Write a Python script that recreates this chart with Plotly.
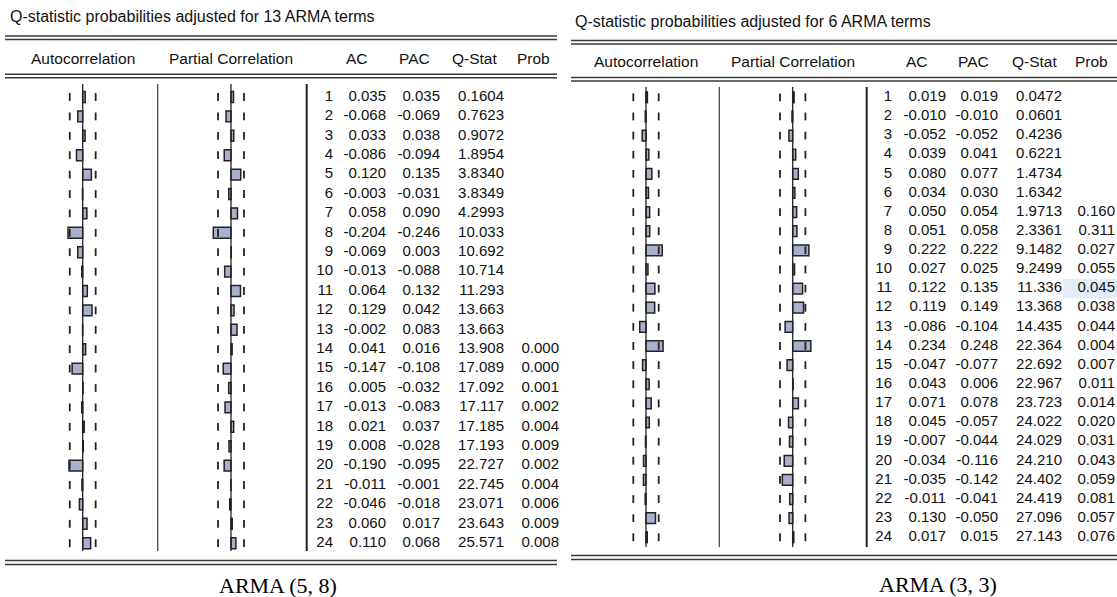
import plotly.graph_objects as go

W, H = 1117, 597

# ---------------- data ----------------
lags = list(range(1, 25))

title_L = "Q-statistic probabilities adjusted for 13 ARMA terms"
caption_L = "ARMA (5, 8)"
AC_L = [0.035, -0.068, 0.033, -0.086, 0.120, -0.003, 0.058, -0.204, -0.069, -0.013, 0.064, 0.129,
        -0.002, 0.041, -0.147, 0.005, -0.013, 0.021, 0.008, -0.190, -0.011, -0.046, 0.060, 0.110]
PAC_L = [0.035, -0.069, 0.038, -0.094, 0.135, -0.031, 0.090, -0.246, 0.003, -0.088, 0.132, 0.042,
         0.083, 0.016, -0.108, -0.032, -0.083, 0.037, -0.028, -0.095, -0.001, -0.018, 0.017, 0.068]
Q_L = [0.1604, 0.7623, 0.9072, 1.8954, 3.8340, 3.8349, 4.2993, 10.033, 10.692, 10.714, 11.293, 13.663,
       13.663, 13.908, 17.089, 17.092, 17.117, 17.185, 17.193, 22.727, 22.745, 23.071, 23.643, 25.571]
P_L = [None] * 13 + [0.000, 0.000, 0.001, 0.002, 0.004, 0.009, 0.002, 0.004, 0.006, 0.009, 0.008]
BAND_L = 0.180

title_R = "Q-statistic probabilities adjusted for 6 ARMA terms"
caption_R = "ARMA (3, 3)"
AC_R = [0.019, -0.010, -0.052, 0.039, 0.080, 0.034, 0.050, 0.051, 0.222, 0.027, 0.122, 0.119,
        -0.086, 0.234, -0.047, 0.043, 0.071, 0.045, -0.007, -0.034, -0.035, -0.011, 0.130, 0.017]
PAC_R = [0.019, -0.010, -0.052, 0.041, 0.077, 0.030, 0.054, 0.058, 0.222, 0.025, 0.135, 0.149,
         -0.104, 0.248, -0.077, 0.006, 0.078, -0.057, -0.044, -0.116, -0.142, -0.041, -0.050, 0.015]
Q_R = [0.0472, 0.0601, 0.4236, 0.6221, 1.4734, 1.6342, 1.9713, 2.3361, 9.1482, 9.2499, 11.336, 13.368,
       14.435, 22.364, 22.692, 22.967, 23.723, 24.022, 24.029, 24.210, 24.402, 24.419, 27.096, 27.143]
P_R = [None] * 6 + [0.160, 0.311, 0.027, 0.055, 0.045, 0.038, 0.044, 0.004, 0.007, 0.011, 0.014,
                    0.020, 0.031, 0.043, 0.059, 0.081, 0.057, 0.076]
BAND_R = 0.174
highlight_R = (11, "Prob")

headers = ["Autocorrelation", "Partial Correlation", "AC", "PAC", "Q-Stat", "Prob"]

# ---------------- styling ----------------
SANS = "Liberation Sans, Arial, sans-serif"
SERIF = "Liberation Serif, Times New Roman, serif"
BAR_FILL = "#A9B0CD"
DARK = "#222222"
LINE = "#3a3a3a"
TXT = "#111111"
FS = 15


def fx(px):
    return px / W


def fy(py):
    return 1 - py / H


def fmt3(v):
    return f"{v:.3f}"


def fmtq(v):
    return f"{v:.4f}" if v < 10 else f"{v:.3f}"


def fmtp(v):
    return "" if v is None else f"{v:.3f}"


fig = go.Figure()

panels = [
    dict(ac=AC_L, pac=PAC_L, q=Q_L, p=P_L, band=BAND_L, title=title_L, caption=caption_L,
         yax="y", yname="yaxis", row1=97.0, step=19.4,
         xac="x", xac_name="xaxis", ac0=82.7, ac_dom=(10, 152),
         xpac="x2", xpac_name="xaxis2", pac0=231.0, pac_dom=(162, 300), scale=72.0,
         seps=(157.7, 306.7), vtop=84, vbot=551,
         cols=dict(lag=333, AC=386, PAC=440, Q=504, Prob=559),
         hcent=dict(AC=357, PAC=414, Q=475, Prob=533),
         left=5, right=557, title_x=8, title_y=17,
         top_lines=(36.0, 39.5), head_y=58, head_lines=(74.2, 77.8), bot_lines=(560.5, 564.5),
         cap_x=278, cap_y=585, hl=None),
    dict(ac=AC_R, pac=PAC_R, q=Q_R, p=P_R, band=BAND_R, title=title_R, caption=caption_R,
         yax="y2", yname="yaxis2", row1=97.3, step=19.13,
         xac="x3", xac_name="xaxis3", ac0=646.0, ac_dom=(580, 714),
         xpac="x4", xpac_name="xaxis4", pac0=792.7, pac_dom=(724, 862), scale=73.0,
         seps=(719.3, 866.7), vtop=87, vbot=547,
         cols=dict(lag=892, AC=946, PAC=998, Q=1062, Prob=1115),
         hcent=dict(AC=917, PAC=973, Q=1034, Prob=1091),
         left=571, right=1117, title_x=573, title_y=21,
         top_lines=(40.5, 44.0), head_y=61, head_lines=(77.5, 81.0), bot_lines=(555.5, 559.5),
         cap_x=938, cap_y=584, hl=highlight_R),
]

layout_axes = {}
shapes = []
annotations = []

layout_axes["xaxis5"] = dict(domain=[0, 1], range=[0, W], visible=False, fixedrange=True)

for P in panels:
    y_bottom = 1 + (H - P["row1"]) / P["step"]
    y_top = 1 - P["row1"] / P["step"]
    layout_axes[P["yname"]] = dict(domain=[0, 1], range=[y_bottom, y_top], visible=False, fixedrange=True)
    for name, zero, dom in ((P["xac_name"], P["ac0"], P["ac_dom"]), (P["xpac_name"], P["pac0"], P["pac_dom"])):
        layout_axes[name] = dict(domain=[fx(dom[0]), fx(dom[1])],
                                 range=[(dom[0] - zero) / P["scale"], (dom[1] - zero) / P["scale"]],
                                 visible=False, fixedrange=True)

    if P["hl"] is not None:
        lag_h, _col = P["hl"]
        shapes.append(dict(type="rect", xref="x5", yref=P["yax"], x0=P["cols"]["Q"] + 1, x1=W,
                           y0=lag_h - 0.5, y1=lag_h + 0.5, fillcolor="#E3ECF9", line=dict(width=0),
                           layer="below"))

    for xa, vals in ((P["xac"], P["ac"]), (P["xpac"], P["pac"])):
        fig.add_trace(go.Bar(x=vals, y=lags, orientation="h", width=0.56, xaxis=xa, yaxis=P["yax"],
                             marker=dict(color=BAR_FILL, line=dict(color=DARK, width=1.5)),
                             hoverinfo="x+y", showlegend=False))
        fig.add_trace(go.Scatter(x=[-P["band"]] * len(lags) + [P["band"]] * len(lags), y=lags + lags,
                                 mode="markers", xaxis=xa, yaxis=P["yax"], showlegend=False, hoverinfo="skip",
                                 marker=dict(symbol="line-ns", size=5.6, color=DARK,
                                             line=dict(color=DARK, width=1.8))))
        shapes.append(dict(type="line", xref=xa, yref="paper", x0=0, x1=0,
                           y0=fy(P["vtop"]), y1=fy(P["vbot"]), line=dict(color=DARK, width=1.3)))

    shapes.append(dict(type="line", xref="paper", yref="paper", x0=fx(P["seps"][0]), x1=fx(P["seps"][0]),
                       y0=fy(P["vtop"]), y1=fy(P["vbot"]), line=dict(color=LINE, width=1.2)))
    shapes.append(dict(type="line", xref="paper", yref="paper", x0=fx(P["seps"][1]), x1=fx(P["seps"][1]),
                       y0=fy(P["vtop"]), y1=fy(P["vbot"]), line=dict(color=DARK, width=2)))

    for ys in (P["top_lines"], P["head_lines"], P["bot_lines"]):
        for yv in ys:
            shapes.append(dict(type="line", xref="paper", yref="paper", x0=fx(P["left"]), x1=fx(P["right"]),
                               y0=fy(yv), y1=fy(yv), line=dict(color=LINE, width=1.5)))

    columns = [("lag", [str(l) for l in lags]), ("AC", [fmt3(v) for v in P["ac"]]),
               ("PAC", [fmt3(v) for v in P["pac"]]), ("Q", [fmtq(v) for v in P["q"]]),
               ("Prob", [fmtp(v) for v in P["p"]])]
    for key, texts in columns:
        fig.add_trace(go.Scatter(x=[P["cols"][key]] * len(lags), y=lags, text=texts, mode="text",
                                 textposition="middle left", xaxis="x5", yaxis=P["yax"], showlegend=False,
                                 hoverinfo="skip", textfont=dict(family=SANS, size=FS, color=TXT)))

    annotations.append(dict(x=fx(P["title_x"]), y=fy(P["title_y"]), xref="paper", yref="paper",
                            text=P["title"], showarrow=False, xanchor="left", yanchor="middle",
                            font=dict(family=SANS, size=16, color=TXT)))
    hpos = [P["ac0"], P["pac0"], P["hcent"]["AC"], P["hcent"]["PAC"], P["hcent"]["Q"], P["hcent"]["Prob"]]
    for htxt, hx in zip(headers, hpos):
        annotations.append(dict(x=fx(hx), y=fy(P["head_y"]), xref="paper", yref="paper", text=htxt,
                                showarrow=False, xanchor="center", yanchor="middle",
                                font=dict(family=SANS, size=15.5, color=TXT)))
    annotations.append(dict(x=fx(P["cap_x"]), y=fy(P["cap_y"]), xref="paper", yref="paper",
                            text=P["caption"], showarrow=False, xanchor="center", yanchor="middle",
                            font=dict(family=SERIF, size=22, color="#000000")))

fig.update_layout(width=W, height=H, autosize=False, margin=dict(l=0, r=0, t=0, b=0),
                  paper_bgcolor="white", plot_bgcolor="rgba(0,0,0,0)", barmode="overlay",
                  shapes=shapes, annotations=annotations, showlegend=False, **layout_axes)

fig.write_html("out.html", config={"displayModeBar": False},
               post_script="document.body.style.margin='0';document.body.style.overflow='hidden';")
